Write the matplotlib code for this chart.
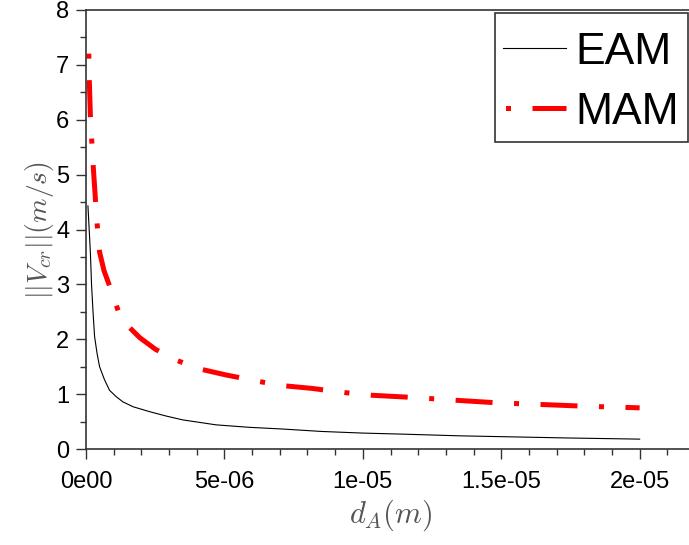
import matplotlib
matplotlib.use('Agg')
import matplotlib.pyplot as plt
from matplotlib.ticker import MultipleLocator
from matplotlib.path import Path

plt.rcParams['mathtext.fontset'] = 'cm'
plt.rcParams['font.family'] = 'Liberation Sans'

# valores (d em metros, V em m/s)
d_eam = [0.07e-6, 0.11e-6, 0.16e-6, 0.20e-6, 0.25e-6, 0.31e-6, 0.40e-6, 0.49e-6, 0.67e-6,
         0.85e-6, 1.1e-6, 1.33e-6, 1.7e-6, 2.3e-6, 2.9e-6, 3.5e-6, 4.7e-6, 5.9e-6, 7.1e-6,
         8.5e-6, 10.0e-6, 11.5e-6, 13.5e-6, 15.5e-6, 17.5e-6, 20.0e-6]
v_eam = [4.43, 4.05, 3.56, 3.00, 2.53, 2.05, 1.74, 1.50, 1.26,
         1.07, 0.95, 0.86, 0.77, 0.68, 0.60, 0.53, 0.44, 0.395, 0.364,
         0.32, 0.29, 0.27, 0.24, 0.22, 0.20, 0.18]

d_mam = [0.10e-6, 0.12e-6, 0.16e-6, 0.21e-6, 0.26e-6, 0.34e-6, 0.41e-6, 0.49e-6, 0.65e-6,
         0.86e-6, 1.19e-6, 1.5e-6, 1.94e-6, 2.5e-6, 3.2e-6, 4.1e-6, 5.05e-6, 6.25e-6,
         7.2e-6, 8.15e-6, 9.4e-6, 10.3e-6, 11.8e-6, 13.3e-6, 14.9e-6, 16.5e-6, 18.0e-6, 20.0e-6]
v_mam = [7.25, 6.70, 6.05, 5.60, 5.16, 4.55, 4.05, 3.59, 3.25,
         2.96, 2.48, 2.25, 2.03, 1.82, 1.63, 1.46, 1.35, 1.23,
         1.15, 1.105, 1.025, 0.98, 0.94, 0.89, 0.84, 0.81, 0.78, 0.75]

x_ticks = [0, 5e-6, 1e-5, 1.5e-5, 2e-5]
x_labels = ['0e00', '5e-06', '1e-05', '1.5e-05', '2e-05']

fig = plt.figure(figsize=(6.89, 5.45), dpi=100)
ax = fig.add_axes([86 / 689, 96 / 545, 609 / 689, 439 / 545])

ax.plot(d_eam, v_eam, color='black', lw=0.8, label='EAM')
ax.plot(d_mam, v_mam, color='red', lw=3.6, label='MAM',
        linestyle=(16.5, (1.0, 4.3, 7.4, 4.3)), dash_capstyle='butt')

ax.set_xlim(0, 2.2e-5)
ax.set_ylim(0, 8)
ax.set_xticks(x_ticks)
ax.set_xticklabels(x_labels)
ax.xaxis.set_minor_locator(MultipleLocator(1e-6))
ax.yaxis.set_major_locator(MultipleLocator(1))
ax.yaxis.set_minor_locator(MultipleLocator(0.5))

for s in ax.spines.values():
    s.set_color('#333333')
    s.set_linewidth(1.2)

ax.tick_params(which='both', direction='out', top=False, right=False,
               colors='#333333', labelcolor='black', labelsize=17, width=1.0)
ax.tick_params(which='major', length=7, pad=5)
ax.tick_params(which='minor', length=4)
ax.tick_params(axis='x', which='major', pad=9)

ax.set_xlabel(r'$d_A(m)$', fontsize=22, color='#555555', labelpad=3)
ax.set_ylabel(r'$||V_{cr}||(m/s)$', fontsize=20, color='#555555', labelpad=0)

leg = ax.legend(loc='upper right', bbox_to_anchor=(688 / 689, 1 - 23 / 545),
                bbox_transform=fig.transFigure, borderaxespad=0, fontsize=32,
                fancybox=False, handlelength=1.4, handletextpad=0.22,
                borderpad=0.2, labelspacing=0.43, framealpha=1)


def caixa_alta(x0, y0, width, height, mutation_size):
    # moldura com mais folga em cima
    top = y0 + height + 0.23 * mutation_size
    verts = [(x0, y0), (x0 + width, y0), (x0 + width, top), (x0, top), (x0, y0)]
    return Path(verts, closed=True)


leg.get_frame().set_boxstyle(caixa_alta)
leg.get_frame().set_edgecolor('#333333')
leg.get_frame().set_linewidth(1.2)

fig.savefig('out.png', dpi=100)
